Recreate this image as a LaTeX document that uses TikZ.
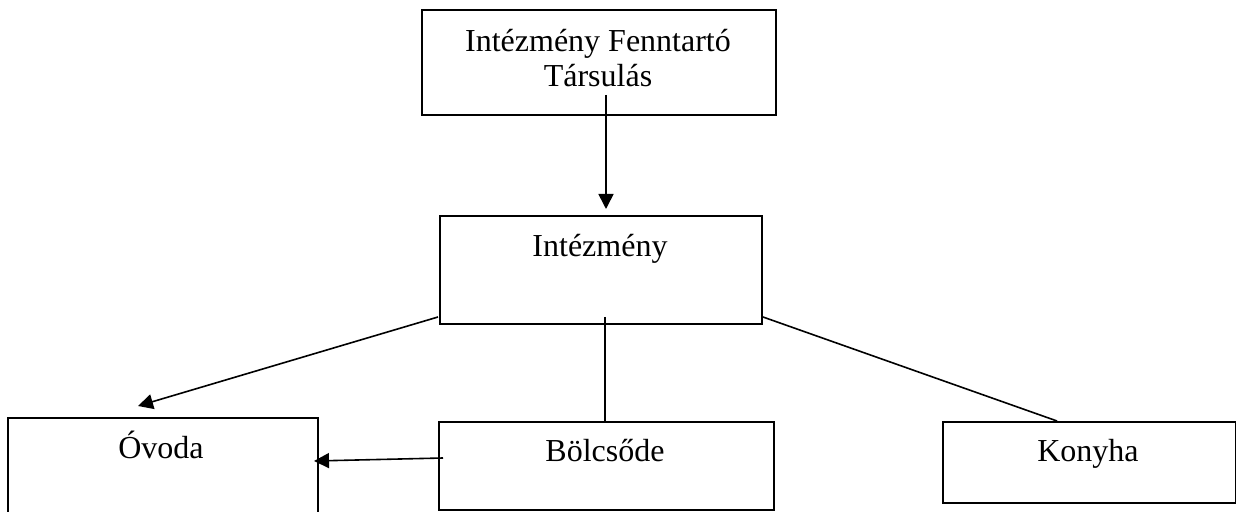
\documentclass[tikz,border=0pt]{standalone}
\usepackage{fontspec}
\setmainfont{Liberation Serif}
\usetikzlibrary{arrows.meta,calc}
\begin{document}
\begin{tikzpicture}[x=0.5pt,y=-0.5pt,
  box/.style={draw, line width=1pt, inner sep=0pt, anchor=north west},
  lbl/.style={anchor=base, inner sep=0pt, font=\fontsize{16}{17.5}\selectfont},
  conn/.style={line width=0.8pt},
  arr/.style={conn, -{Triangle[width=7.5pt,length=7.5pt]}}]
\clip (0,0) rectangle (1236,512);
% boxes
\node[box, minimum width=177pt, minimum height=52.5pt] (T) at (421,9) {};
\node[box, minimum width=161pt, minimum height=54pt] (I) at (439,215) {};
\node[box, minimum width=155pt, minimum height=51.5pt] (O) at (7,417) {};
\node[box, minimum width=167.5pt, minimum height=44pt] (B) at (438,421) {};
\node[box, minimum width=146.5pt, minimum height=40.5pt] (K) at (942,421) {};
% labels
\node[lbl] (T1) at (598,52) {Intézmény Fenntartó};
\node[lbl] (T2) at (598,87) {Társulás};
\node[lbl] (IL) at (600,257) {Intézmény};
\node[lbl] (OL) at (161,459) {Óvoda};
\node[lbl] (BL) at (605,462) {Bölcsőde};
\node[lbl] (KL) at (1088,462) {Konyha};
% connectors
\draw[arr] ([shift={(7,-21)}]T.south) -- ([shift={(5,-6)}]I.north);
\draw[arr] ([shift={(-1,-8)}]I.south west) -- ([shift={(-25,-11)}]O.north);
\draw[conn] ([shift={(4,-8)}]I.south) -- ([shift={(-1.5,0)}]B.north);
\draw[conn] ([shift={(0,-8)}]I.south east) -- ([shift={(-32.5,0)}]K.north);
\draw[arr] ([shift={(5,-8)}]B.west) -- ([shift={(-5,44)}]O.north east);
\end{tikzpicture}
\end{document}
